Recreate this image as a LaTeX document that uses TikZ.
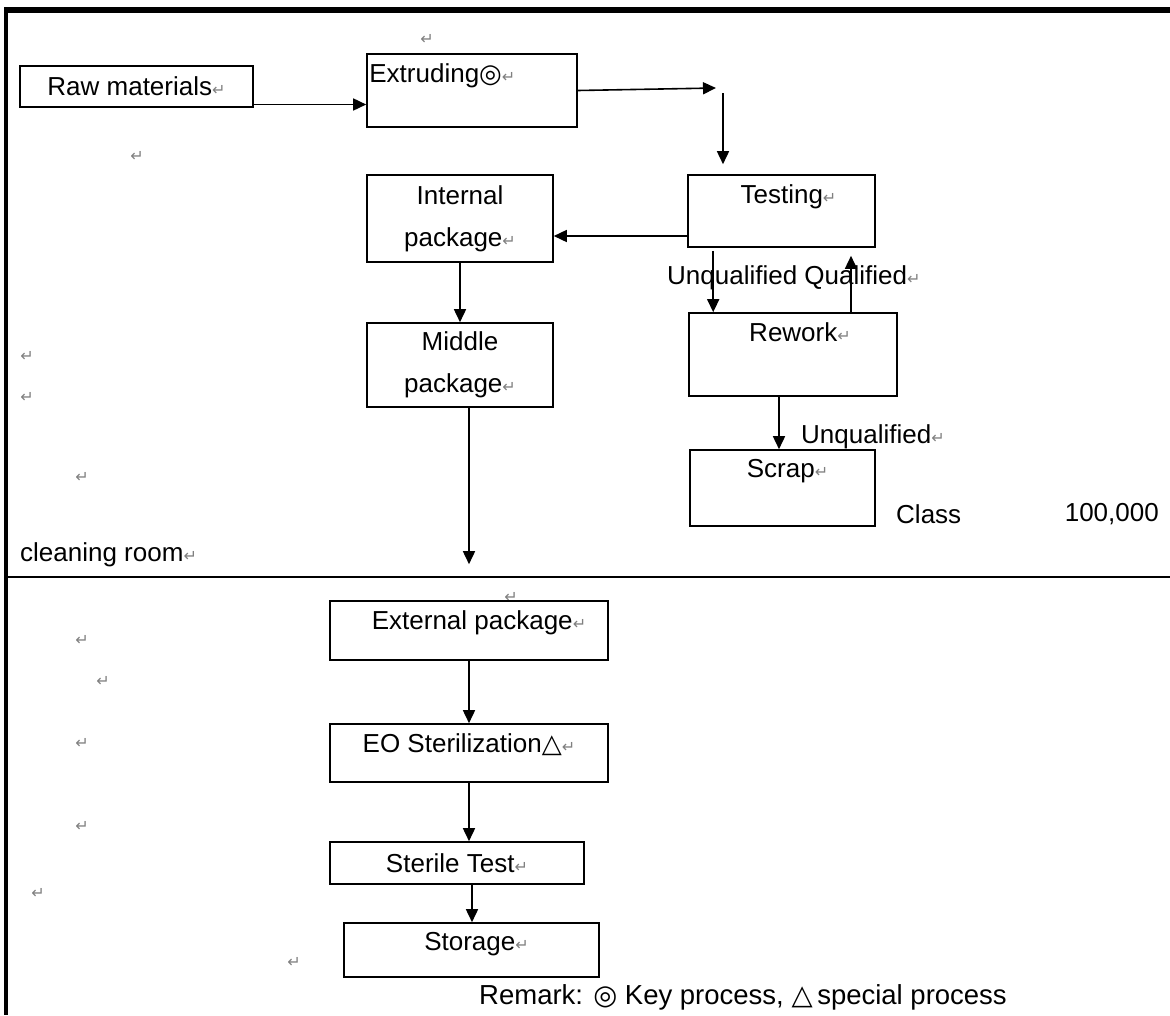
\documentclass[tikz,border=0pt]{standalone}
\usepackage{fontspec}
\setmainfont{Liberation Sans}
\newfontfamily\dejavu{DejaVu Sans}
\usetikzlibrary{arrows.meta,positioning}
\newcommand{\retmark}{{\dejavu\fontsize{16}{16}\selectfont\textcolor{gray}{↵}}}
\newcommand{\keymark}{{\dejavu ◎}}
\newcommand{\specmark}{{\dejavu △}}
\tikzset{>={Triangle[length=13pt,width=12pt]}, % filled heads as in the chart
every node/.style={font=\fontsize{26}{42}\selectfont}, % one text size everywhere
box/.style={draw, line width=1.6pt, inner sep=0pt}, % plain process box
flow/.style={->, line width=1.6pt}, % connector between two boxes
toplbl/.style={anchor=north, inner sep=0pt, yshift=-10pt}, % text that sits at the top of its box
}

\begin{document}
\begin{tikzpicture}[x=1pt,y=-1pt]
\useasboundingbox (0,0) rectangle (1170,1015);
% page frame and the line of the cleaning room
\draw[line width=6pt] (4,10) -- (1170,10);
\draw[line width=4pt] (6,7) -- (6,1015);
\draw[line width=2pt] (8,577) -- (1170,577);
% stray paragraph marks
\foreach \px/\py [count=\i] in {427/39, 137/156, 27/356, 27/397, 82/477, 511/597, 82/640, 103/681, 82/743, 82/826, 38/893, 294/962}
  \node[inner sep=0pt] (ret\i) at (\px,\py) {\retmark};

% inside the cleaning room
\node[box, minimum width=233pt, minimum height=41pt] (raw) at (136.5,86.5) {Raw materials\retmark};
\node[box, minimum width=210pt, minimum height=73pt,
  label={[toplbl, anchor=north west, xshift=3pt]north west:Extruding\keymark\retmark}] (extr) at (472,90.5) {};
\node[box, minimum width=187pt, minimum height=72pt,
  label={[toplbl, xshift=7pt]north:Testing\retmark}] (test) at (781.5,211) {};
\node[box, minimum width=186pt, minimum height=87pt, align=center] (int) at (460,218.5) {Internal\\package\retmark};
\node[box, minimum width=186pt, minimum height=84pt, align=center] (mid) at (460,365) {Middle\\package\retmark};
\node[box, minimum width=208pt, minimum height=83pt,
  label={[toplbl, xshift=7pt]north:Rework\retmark}] (rew) at (793,354.5) {};
\node[box, minimum width=185pt, minimum height=76pt,
  label={[toplbl, xshift=5pt]north:Scrap\retmark}] (scrap) at (782.5,488) {};

\node[anchor=west, inner sep=0pt] (qlbl) at (667,278) {Unqualified Qualified\retmark};
\node[anchor=west, inner sep=0pt] (ulbl) at (801,437) {Unqualified\retmark};
\node[anchor=west, inner sep=0pt] (cls) at (896,514) {Class};
\node[anchor=east, inner sep=0pt] (clsno) at (1159,514) {100,000};
\node[anchor=west, inner sep=0pt] (room) at (20,555) {cleaning room\retmark};

% outside
\node[box, minimum width=278pt, minimum height=59pt,
  label={[toplbl, xshift=10pt]north:External package\retmark}] (ext) at (469,630.5) {};
\node[box, minimum width=278pt, minimum height=58pt,
  label={[toplbl]north:EO Sterilization\specmark\retmark}] (eo) at (469,753) {};
\node[box, minimum width=254pt, minimum height=42pt] (ster) at (457,863) {Sterile Test\retmark};
\node[box, minimum width=255pt, minimum height=54pt,
  label={[toplbl, xshift=5pt]north:Storage\retmark}] (stor) at (471.5,950) {};
\node[anchor=west, inner sep=0pt, font=\fontsize{27.5}{30}\selectfont] (remark) at (479,997) {Remark: \keymark{} Key process, \specmark\,special process};

% connectors
\coordinate (turn1) at (716,88);
\coordinate (turn2) at (723,93);
\draw[flow] ([yshift=-18pt]raw.east) -- ([yshift=-18pt]raw.east -| extr.west);
\draw[flow] (extr.east) -- (turn1);
\draw[flow, shorten >=10pt] (turn2) -- (turn2 |- test.north);
\draw[flow] ([yshift=-25pt]test.west) -- ([yshift=-25pt]test.west -| int.east);
\draw[flow] (int.south) -- (mid.north);
\draw[flow, shorten >=36pt] (mid.south -| ext.north) -- (ext.north);
\draw[flow, shorten <=3pt] ([xshift=26pt]test.south west) -- ([xshift=26pt]test.south west |- rew.north);
\draw[flow, shorten >=8pt] ([xshift=58pt]rew.north) -- ([xshift=58pt]rew.north |- test.south);
\draw[flow] ([xshift=-14pt]rew.south) -- ([xshift=-14pt]rew.south |- scrap.north);
\draw[flow] (ext.south) -- (eo.north);
\draw[flow] (eo.south) -- (eo.south |- ster.north);
\draw[flow] ([xshift=15pt]ster.south) -- ([xshift=15pt]ster.south |- stor.north);
\end{tikzpicture}
\end{document}
